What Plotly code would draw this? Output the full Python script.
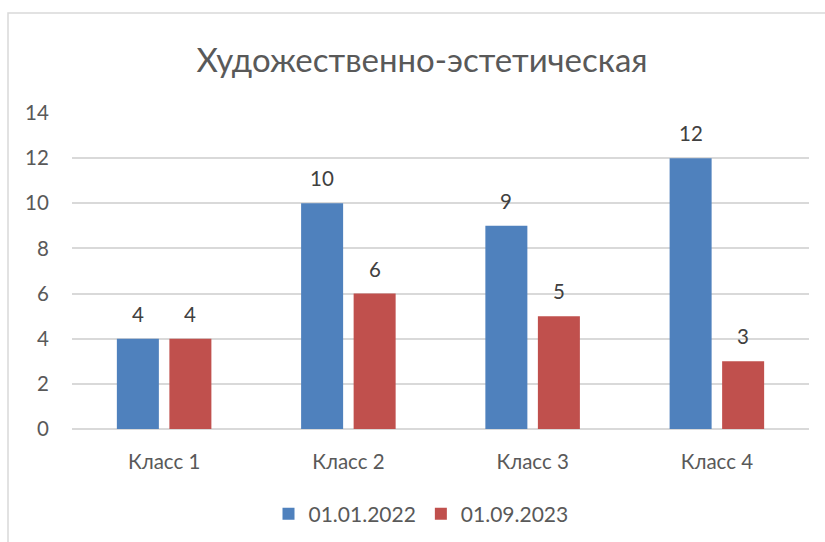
import plotly.graph_objects as go

categories = ["Класс 1", "Класс 2", "Класс 3", "Класс 4"]
series_names = ["01.01.2022", "01.09.2023"]
values_2022 = [4, 10, 9, 12]
values_2023 = [4, 6, 5, 3]
y_ticks = [0, 2, 4, 6, 8, 10, 12, 14]
title_text = "Художественно-эстетическая"

colors = ["#4F81BD", "#C0504D"]
FONT = "Lato, Calibri, Carlito, sans-serif"
TXT = "#595959"

fig = go.Figure()
for name, vals, col in zip(series_names, [values_2022, values_2023], colors):
    fig.add_trace(go.Bar(x=categories, y=vals, name=name, marker=dict(color=col, line=dict(width=0))))

W, H = 825, 542
l, r, t, b = 72, 16, 113, 113
plot_w = W - l - r
plot_h = H - t - b
cat_w = plot_w / len(categories)
bargap = 0.43
slot = cat_w * (1 - bargap) / 2
offsets = [-slot / 2, slot / 2]
for vals, off in zip([values_2022, values_2023], offsets):
    for c, v in zip(categories, vals):
        fig.add_annotation(x=c, y=v, xref="x", yref="y", text=str(v), showarrow=False,
                           xshift=off, yshift=25, yanchor="middle",
                           font=dict(family=FONT, size=20.5, color="#404040"))

fig.add_shape(type="rect", xref="paper", yref="paper",
              x0=(8 - l) / plot_w, x1=1.05, y0=-0.45, y1=1 + (t - 13) / plot_h,
              line=dict(color="#D9D9D9", width=1.5), layer="below")

fig.update_layout(
    width=W, height=H,
    margin=dict(l=l, r=r, t=t, b=b, autoexpand=False),
    paper_bgcolor="white", plot_bgcolor="white",
    barmode="group", bargap=bargap, bargroupgap=0.2,
    title=dict(text=title_text, x=422 / W, xanchor="center", y=1 - 60 / H, yanchor="middle",
               font=dict(family=FONT, size=33, color=TXT)),
    font=dict(family=FONT, color=TXT, size=20),
    xaxis=dict(showgrid=False, showline=False, ticks="outside", ticklen=14, tickcolor="rgba(0,0,0,0)",
               tickfont=dict(size=20.5, color=TXT), automargin=False),
    yaxis=dict(range=[0, 14], tickvals=y_ticks, showgrid=True, gridcolor="#D9D9D9", gridwidth=1.5,
               zeroline=True, zerolinecolor="#D9D9D9", zerolinewidth=1.5,
               ticks="outside", ticklen=18, tickcolor="rgba(0,0,0,0)",
               tickfont=dict(size=20.5, color=TXT), automargin=False),
    legend=dict(orientation="h", x=(421 - l) / plot_w, xanchor="center", y=-(514 - (H - b)) / plot_h,
                yanchor="middle", font=dict(size=21, color=TXT), itemwidth=30),
    showlegend=True,
)

fig.write_html("out.html", config={"displayModeBar": False},
               post_script="document.body.style.margin='0';")
